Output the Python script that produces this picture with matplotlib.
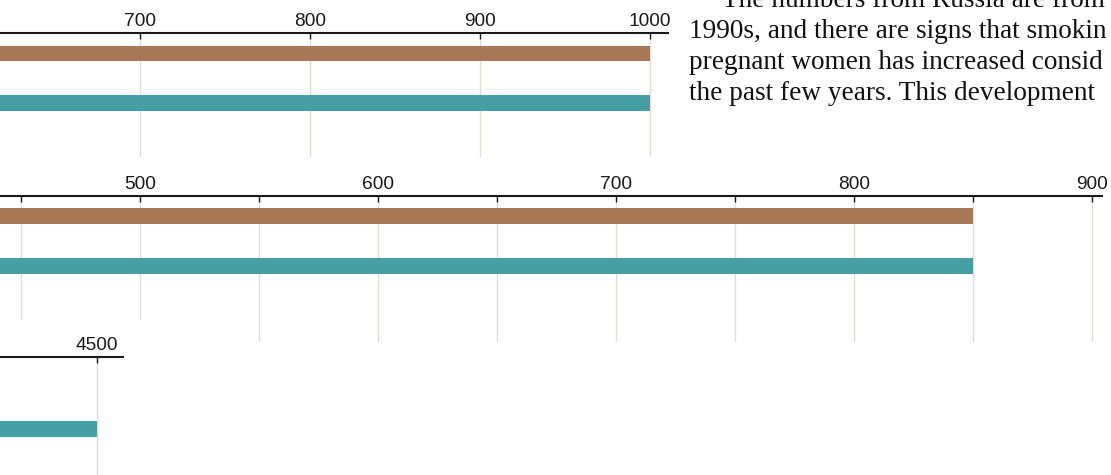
import matplotlib.pyplot as plt
from matplotlib.patches import Rectangle

# canvas in pixels
W, H = 1111, 475

# data (two series per panel: brown, teal)
top_vals = [1000, 1000]
mid_vals = [850, 850]
low_vals = [4500]          # only the teal bar is visible in the lower panel
top_ticks = [700, 800, 900, 1000]
mid_ticks = [500, 600, 700, 800, 900]
mid_minor = [450, 550, 650, 750, 850]
low_ticks = [4500]

brown = '#a87856'
teal = '#44a0a5'
grid_col = '#e3dccf'
ink = '#1a1a1a'

# the running text, as far as it is visible in the screenshot
text_lines = [
    "The numbers from Russia are from",
    "1990s, and there are signs that smokin",
    "pregnant women has increased consid",
    "the past few years. This development",
]

fig = plt.figure(figsize=(W / 100, H / 100), dpi=100)


def px_axes(left, top, right, bottom, z=0):
    ax = fig.add_axes([left / W, 1 - bottom / H, (right - left) / W, (bottom - top) / H])
    ax.set_zorder(z)
    return ax


def style(ax):
    ax.xaxis.tick_top()
    ax.tick_params(axis='x', which='both', direction='in', length=4.5, width=1,
                   color=ink, labelcolor=ink, labelsize=13.8, pad=2)
    for lab in ax.get_xticklabels():
        lab.set_fontfamily('Liberation Sans')
    for side in ['left', 'right', 'bottom']:
        ax.spines[side].set_visible(False)
    ax.spines['top'].set_linewidth(1.5)
    ax.spines['top'].set_color(ink)
    ax.set_yticks([])
    ax.grid(axis='x', which='both', color=grid_col, linewidth=1)
    ax.set_axisbelow(True)
    ax.patch.set_alpha(0)


def set_scale(ax, ref_val, ref_px, px_per_unit, left_px, right_px):
    ax.set_xlim(ref_val - (ref_px - left_px) / px_per_unit,
                ref_val + (right_px - ref_px) / px_per_unit)


# upper panel
ax1 = px_axes(0, 33, 668, 157)
ax1.barh([0, 1], top_vals, height=0.32, color=[brown, teal])
set_scale(ax1, 700, 140, 1.7, 0, 668)
ax1.set_ylim(2.09, -0.414)
ax1.set_xticks(top_ticks)
style(ax1)

# middle panel
ax2 = px_axes(0, 196, 1102, 342)
ax2.barh([0, 1], mid_vals, height=0.32, color=[brown, teal])
set_scale(ax2, 500, 140, 2.38, 0, 1102)
ax2.set_ylim(2.52, -0.4)
ax2.set_xticks(mid_ticks)
ax2.set_xticks(mid_minor, minor=True)
style(ax2)

# white block of the lower panel covering the middle one
fig.add_artist(Rectangle((0, 0), 200 / W, (H - 320) / H, transform=fig.transFigure,
                         facecolor='white', edgecolor='none', zorder=0.5))

# lower panel
ax3 = px_axes(0, 357, 123, 475, z=1)
ax3.barh([1], low_vals, height=0.32, color=teal)
set_scale(ax3, 4500, 97, 0.476, 0, 123)
ax3.set_ylim(1.92, -0.44)
ax3.set_xticks(low_ticks)
style(ax3)

# running text on the right
baselines = [7, 38, 69, 100]
starts = [722, 689, 689, 689]
for s, x0, y0 in zip(text_lines, starts, baselines):
    fig.text(x0 / W, 1 - y0 / H, s, va='baseline', ha='left',
             fontfamily='Liberation Serif', fontsize=19.6, color='#111111')

fig.savefig('out.png', dpi=100)
